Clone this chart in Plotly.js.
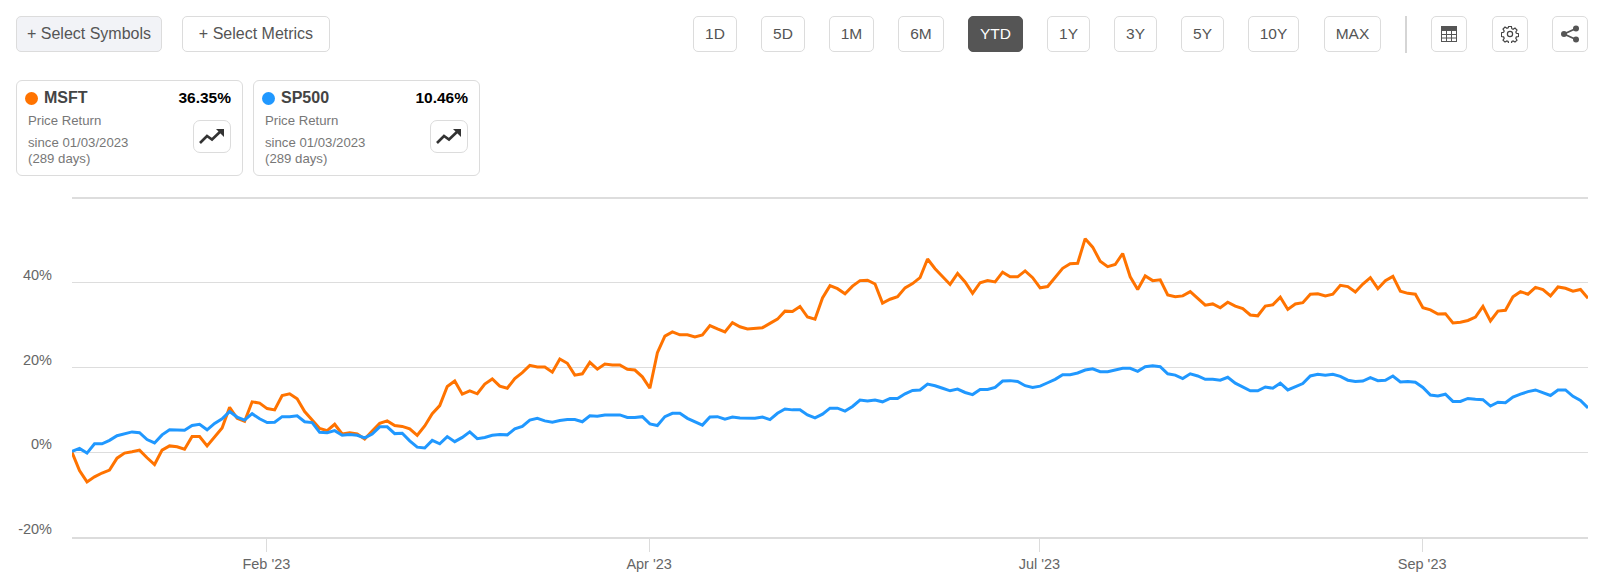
<!DOCTYPE html>
<html>
<head>
<meta charset="utf-8">
<script src="https://cdn.plot.ly/plotly-3.0.1.min.js"></script>
<style>
html,body{margin:0;padding:0;background:#fff;width:1611px;height:588px;overflow:hidden;font-family:"Liberation Sans",Arial,sans-serif;}
#chart{position:absolute;left:0;top:0;width:1611px;height:588px;}
.btn{position:absolute;top:16px;height:36px;box-sizing:border-box;border:1px solid #dcdcdc;border-radius:5px;background:#fff;color:#555;font-size:15.5px;line-height:34px;text-align:center;white-space:nowrap;}
.btn.wide{font-size:16px;}
.btn.sel{background:#555;border-color:#555;color:#fff;}
.btn.grey{background:#f2f3f7;}
.btn svg{position:absolute;left:50%;top:50%;transform:translate(-50%,-50%);}
.divider{position:absolute;left:1405px;top:16px;width:1.5px;height:37px;background:#d5d5d5;}
.card{position:absolute;top:80px;height:96px;box-sizing:border-box;border:1px solid #dcdcdc;border-radius:6px;background:#fff;}
.card div,.card span{position:absolute;white-space:nowrap;}
.dot{width:13px;height:13px;border-radius:50%;left:8px;top:11px;}
.sym{left:27px;top:8px;font-size:16px;font-weight:bold;color:#444;}
.pct{right:11px;top:8px;font-size:15.5px;font-weight:bold;color:#000;}
.l1{left:11px;top:32px;font-size:13.2px;color:#777;}
.l2{left:11px;top:54px;font-size:13.2px;color:#777;}
.l3{left:11px;top:70px;font-size:13.2px;color:#777;}
.ico{right:11px;top:39px;width:38px;height:33px;box-sizing:border-box;border:1px solid #dcdcdc;border-radius:7px;}
</style>
</head>
<body>
<div id="chart"></div>
<div id="ui"></div>
<script>
const msft = [0,-4.3,-7.0,-5.8,-4.9,-4.2,-1.4,-0.2,0.1,0.5,-1.3,-2.9,0.5,1.5,1.3,0.7,3.7,3.7,1.5,3.6,
5.7,10.6,8.0,7.3,11.9,11.6,10.3,10.0,13.4,13.8,12.6,9.6,7.7,5.6,5.1,6.6,4.3,4.6,4.3,3.1,
5.0,6.8,7.4,6.3,6.1,5.5,4.0,6.2,9.1,11.0,15.5,16.8,13.7,14.5,13.8,16.1,17.3,15.6,15.1,17.4,
18.8,20.5,20.1,20.1,18.9,22.0,21.0,18.2,18.5,21.2,19.6,20.8,20.6,20.6,19.6,19.4,17.8,15.1,23.5,27.4,
28.4,27.7,27.7,27.2,27.7,29.9,29.1,28.4,30.6,29.6,29.1,29.2,29.4,30.4,31.4,33.3,33.2,34.4,31.9,31.4,
36.4,39.3,38.6,37.4,39.2,40.5,40.6,39.7,35.2,36.1,36.7,38.8,39.8,41.2,45.6,43.3,41.4,39.6,42.2,40.2,
37.5,40.0,40.5,40.2,42.5,41.4,41.4,42.8,41.2,38.8,39.1,41.2,43.4,44.5,44.6,50.4,48.4,45.1,43.8,44.3,
46.9,41.4,38.4,41.6,40.5,40.7,37.1,36.7,36.9,37.9,36.3,34.7,35.0,34.1,35.4,34.5,33.9,32.4,32.2,34.5,
34.8,36.6,33.7,35.0,35.3,37.3,37.4,36.9,37.3,39.4,39.1,37.8,39.7,41.2,38.6,40.5,41.5,38.0,37.5,37.3,
34.1,33.6,32.6,32.7,30.5,30.7,31.1,31.9,34.4,31.0,33.3,33.5,36.7,37.9,37.3,38.9,38.4,36.9,39.0,38.7,
38.0,38.4,36.35];
const sp500 = [0.2,0.9,-0.2,2.0,2.0,2.8,3.9,4.3,4.8,4.6,3.0,2.2,4.1,5.3,5.2,5.2,6.3,6.6,5.3,6.8,
7.9,9.6,8.3,7.6,9.1,7.9,7.0,7.1,8.4,8.4,8.6,7.2,7.0,4.7,4.6,5.1,4.0,4.2,4.0,3.4,
4.3,6.0,6.0,4.4,4.5,2.7,1.2,1.0,2.8,2.0,3.7,2.5,3.5,4.8,3.2,3.5,4.0,4.2,4.1,5.5,
6.1,7.6,8.0,7.4,7.1,7.5,7.7,7.7,7.2,8.6,8.5,8.8,8.8,8.8,8.2,8.2,8.4,6.7,6.3,8.4,
9.2,9.2,8.0,7.2,6.4,8.3,8.4,7.8,8.3,8.1,8.0,8.0,8.3,7.7,9.2,10.2,10.0,10.0,8.8,8.1,
9.0,10.4,10.4,9.7,10.8,12.3,12.1,12.3,11.9,12.7,12.7,13.8,14.6,14.7,16.1,15.7,15.1,14.5,14.9,14.1,
13.6,14.8,14.8,15.3,16.8,16.9,16.7,15.7,15.3,15.6,16.4,17.2,18.3,18.3,18.7,19.4,19.7,19.0,19.0,19.4,
19.8,19.8,19.1,20.2,20.4,20.2,18.5,18.2,17.4,18.5,18.0,17.2,17.2,17.0,17.7,16.3,15.4,14.5,14.5,15.4,
15.1,16.3,14.7,15.5,16.2,18.0,18.4,18.2,18.4,17.9,17.0,16.7,16.8,17.6,16.9,17.0,18.0,16.6,16.7,16.5,
15.3,13.5,13.3,13.7,12.0,12.0,12.7,12.5,12.4,10.9,11.8,11.7,13.0,13.7,14.3,14.7,14.0,13.4,14.7,14.7,
13.2,12.2,10.46];
const tradingDay = msft.map((_, i) => i);
const xTickDays = [25.9, 76.9, 128.9, 179.9];
const xTickLabels = ["Feb '23", "Apr '23", "Jul '23", "Sep '23"];
const yTickValues = [-20, 0, 20, 40, 60];
const yTickLabels = ["-20%", "0%", "20%", "40%", ""];
const rangeLabels = ["1D","5D","1M","6M","YTD","1Y","3Y","5Y","10Y","MAX"];
const rangeLefts  = [693,761,829,898,968,1047,1114,1181,1248,1324];
const rangeWidths = [44,44,45,46,55,43,43,43,51,57];

const trace = (name, y, color) => ({type:'scatter', mode:'lines', name, x:tradingDay, y,
  line:{color, width:3, shape:'linear'}, hoverinfo:'skip'});

Plotly.newPlot('chart', [trace('MSFT', msft, '#ff7300'), trace('SP500', sp500, '#2098ff')], {
  width:1611, height:588, showlegend:false,
  paper_bgcolor:'#fff', plot_bgcolor:'#fff',
  margin:{l:72, r:23, t:189, b:51, pad:0},
  font:{family:'"Liberation Sans", Arial, sans-serif', size:14.5, color:'#666'},
  xaxis:{type:'linear', range:[0,202], tickmode:'array', tickvals:xTickDays, ticktext:xTickLabels,
    showgrid:false, zeroline:false, showline:true, linecolor:'#dcdcdc', linewidth:2,
    ticks:'outside', ticklen:13, tickwidth:1, tickcolor:'#dcdcdc',
    tickfont:{size:14.5, color:'#666'}, fixedrange:true},
  yaxis:{type:'linear', range:[-20,62.12], tickmode:'array', tickvals:yTickValues,
    ticktext:yTickLabels, showgrid:true, gridcolor:'#dddddd', gridwidth:1.2,
    zeroline:false, showline:false, ticks:'', ticklabelstandoff:19, ticklabelshift:-8,
    tickfont:{size:14.5, color:'#666'}, fixedrange:true}
}, {displayModeBar:false, staticPlot:true});

const tableIcon = '<svg width="16" height="16" viewBox="0 0 16 16"><rect x="0.5" y="0.5" width="15" height="15" fill="none" stroke="#555"/><rect x="0" y="0" width="16" height="5" fill="#555"/><path d="M0 8.5H16M0 12H16M5.5 5V16M10.5 5V16" stroke="#555" stroke-width="1"/></svg>';
const gearIcon = '<svg width="18" height="18" viewBox="0 0 18 18" fill="none" stroke="#444" stroke-width="1.2"><path d="M7.6 1.5h2.8l.4 2.2 1.3.6 1.9-1.2 2 2-1.2 1.9.6 1.3 2.2.4v2.8l-2.2.4-.6 1.3 1.2 1.9-2 2-1.9-1.2-1.3.6-.4 2.2H7.6l-.4-2.2-1.3-.6-1.9 1.2-2-2 1.2-1.9-.6-1.3-2.2-.4V7.7l2.2-.4.6-1.3-1.2-1.9 2-2 1.9 1.2 1.3-.6z" transform="translate(0 0)"/><circle cx="9" cy="9" r="2.6"/></svg>';
const shareIcon = '<svg width="20" height="18" viewBox="0 0 20 18"><path d="M16 3.5 L4 9 L16 14.5" fill="none" stroke="#555" stroke-width="1.8"/><circle cx="16" cy="3.5" r="3" fill="#555"/><circle cx="4" cy="9" r="3" fill="#555"/><circle cx="16" cy="14.5" r="3" fill="#555"/></svg>';

let html = '';
const btn = (l, w, inner, cls='') => `<div class="btn ${cls}" style="left:${l}px;width:${w}px">${inner}</div>`;
html += btn(16, 146, '+ Select Symbols', 'grey wide');
html += btn(182, 148, '+ Select Metrics', 'wide');
rangeLabels.forEach((t, i) => { html += btn(rangeLefts[i], rangeWidths[i], t, t === 'YTD' ? 'sel' : ''); });
html += '<div class="divider"></div>';
html += btn(1431, 36, tableIcon) + btn(1492, 36, gearIcon) + btn(1552, 36, shareIcon);
const card = (l, sym, pct, color) => `<div class="card" style="left:${l}px;width:227px">
<div class="dot" style="background:${color}"></div><div class="sym">${sym}</div><div class="pct">${pct}</div>
<div class="l1">Price Return</div><div class="l2">since 01/03/2023</div><div class="l3">(289 days)</div>
<div class="ico"><svg style="position:absolute;left:4px;top:6px" width="28" height="18" viewBox="0 0 28 18"><path d="M2 16 L9 9 L14 12.5 L24 3" fill="none" stroke="#333" stroke-width="2.6"/><path d="M18 2 H26 V10 Z" fill="#333"/></svg></div></div>`;
html += card(16, 'MSFT', '36.35%', '#ff7300') + card(253, 'SP500', '10.46%', '#2098ff');
document.getElementById('ui').innerHTML = html;
</script>
</body>
</html>
